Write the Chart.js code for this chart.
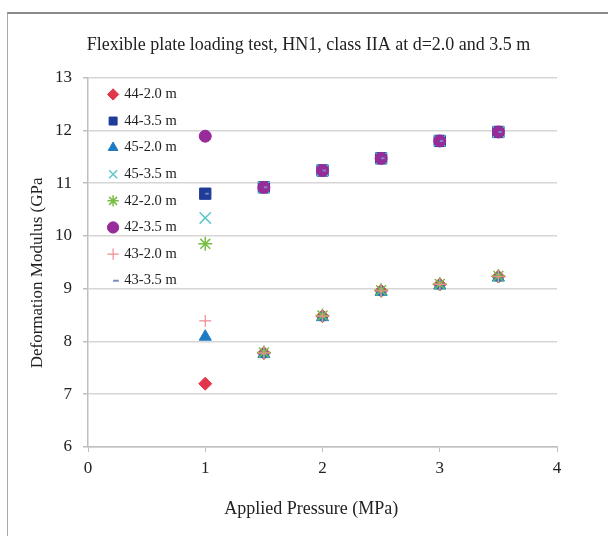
<!DOCTYPE html>
<html>
<head>
<meta charset="utf-8">
<script src="https://cdn.jsdelivr.net/npm/chart.js@4/dist/chart.umd.min.js"></script>
<style>
  html, body { margin: 0; padding: 0; background: #fff; }
  #wrap { position: relative; width: 608px; height: 536px; overflow: hidden; }
  #frame {
    position: absolute; left: 7px; top: 12px; width: 620px; height: 540px;
    border-top: 2px solid #8a8a8a; border-left: 1px solid #a8a8a8;
  }
  #main-chart { position: absolute; left: 0; top: 0; }
</style>
</head>
<body>
<div id="wrap">
  <div id="frame"></div>
  <canvas id="main-chart" width="608" height="536"></canvas>
</div>
<script>
// applied pressure (MPa)
const pressure = [1, 1.5, 2, 2.5, 3, 3.5];

// deformation modulus (GPa) per test / depth
const s44_20 = [7.20, 7.78, 8.48, 8.96, 9.08, 9.23];
const s44_35 = [10.80, 10.92, 11.24, 11.47, 11.80, 11.97];
const s45_20 = [8.09, 7.76, 8.46, 8.94, 9.06, 9.21];
const s45_35 = [10.34, 10.92, 11.24, 11.47, 11.80, 11.97];
const s42_20 = [9.85, 7.79, 8.49, 8.97, 9.09, 9.24];
const s42_35 = [11.89, 10.92, 11.24, 11.47, 11.80, 11.97];
const s43_20 = [8.39, 7.78, 8.48, 8.96, 9.08, 9.23];
const s43_35 = [10.80, 10.92, 11.24, 11.47, 11.80, 11.97];

const xTicks = [0, 1, 2, 3, 4];
const yTicks = [6, 7, 8, 9, 10, 11, 12, 13];

const serif = 'Liberation Serif';

function pts(ys) {
    return pressure.map((x, i) => ({x: x, y: ys[i]}));
}

function series(label, ys, style, color, radius, bw, idx) {
    return {
        label: label,
        data: pts(ys),
        pointStyle: style,
        backgroundColor: color,
        borderColor: color,
        pointRadius: radius,
        pointBorderWidth: bw,
        showLine: false,
        order: 10 - idx   // later series on top, like the original
    };
}

const datasets = [
    series('44-2.0 m', s44_20, 'rectRot', '#e2364a', 6.5, 1, 0),
    series('44-3.5 m', s44_35, 'rect', '#1f3c98', 8, 1, 1),
    series('45-2.0 m', s45_20, 'triangle', '#1e7cc4', 7, 1, 2),
    series('45-3.5 m', s45_35, 'crossRot', '#5cc8c8', 8, 1.5, 3),
    series('42-2.0 m', s42_20, 'star', '#78bd45', 7, 1.5, 4),
    series('42-3.5 m', s42_35, 'circle', '#972b9a', 6, 1, 5),
    series('43-2.0 m', s43_20, 'cross', '#f28a94', 6, 1.2, 6),
    series('43-3.5 m', s43_35, 'dash', '#7b86c4', 3.5, 2, 7)
];

// the legend sits inside the plot, top left
const legendPlacer = {
    id: 'legendPlacer',
    afterLayout(chart) {
        const lg = chart.legend;
        const w = lg.width, h = lg.height;
        lg.left = chart.chartArea.left + 9;
        lg.top = chart.chartArea.top - 2.5;
        lg.right = lg.left + w;
        lg.bottom = lg.top + h;
    }
};

new Chart(document.getElementById('main-chart'), {
    type: 'scatter',
    data: { datasets: datasets },
    plugins: [legendPlacer],
    options: {
        responsive: false,
        animation: false,
        layout: { padding: 0 },
        plugins: {
            tooltip: { enabled: false },
            title: {
                display: true,
                text: '  Flexible plate loading test, HN1, class IIA at d=2.0 and 3.5 m',
                color: '#222',
                font: { family: serif, size: 18, weight: 'normal' },
                padding: { top: 34, bottom: 22 }
            },
            legend: {
                position: 'chartArea',
                align: 'start',
                labels: {
                    usePointStyle: true,
                    boxWidth: 8,
                    boxHeight: 8,
                    padding: 12.1,
                    color: '#222',
                    font: { family: serif, size: 14.5 },
                    sort: (a, b) => a.datasetIndex - b.datasetIndex
                }
            }
        },
        scales: {
            x: {
                type: 'linear',
                min: 0, max: 4,
                afterBuildTicks: s => { s.ticks = xTicks.map(v => ({value: v})); },
                afterFit: s => { s.height = 89; },
                border: { color: '#bfbfbf', width: 1.5 },
                grid: { drawOnChartArea: false, drawTicks: true, tickLength: 5, color: '#bfbfbf' },
                ticks: { color: '#222', padding: 6, font: { family: serif, size: 17 } },
                title: {
                    display: true,
                    text: 'Applied Pressure (MPa)     ',
                    color: '#222',
                    font: { family: serif, size: 18 },
                    padding: { top: 0, bottom: 16 }
                }
            },
            y: {
                type: 'linear',
                min: 6, max: 13,
                afterBuildTicks: s => { s.ticks = yTicks.map(v => ({value: v})); },
                afterFit: s => { s.width = 88; },
                border: { color: '#bfbfbf', width: 1.5 },
                grid: { color: '#d6d6d6', lineWidth: 1.5, tickLength: 5, tickColor: '#bfbfbf' },
                ticks: { color: '#222', padding: 11, font: { family: serif, size: 17 } },
                title: {
                    display: true,
                    text: 'Deformation Modulus (GPa     ',
                    color: '#222',
                    font: { family: serif, size: 17 },
                    padding: { top: 27, bottom: 0 }
                }
            },
            // empty right margin, keeps the title centred on the whole figure
            yRight: {
                type: 'linear',
                position: 'right',
                min: 6, max: 13,
                afterFit: s => { s.width = 51; },
                ticks: { display: false },
                grid: { display: false },
                border: { display: false }
            }
        }
    }
});
</script>
</body>
</html>
